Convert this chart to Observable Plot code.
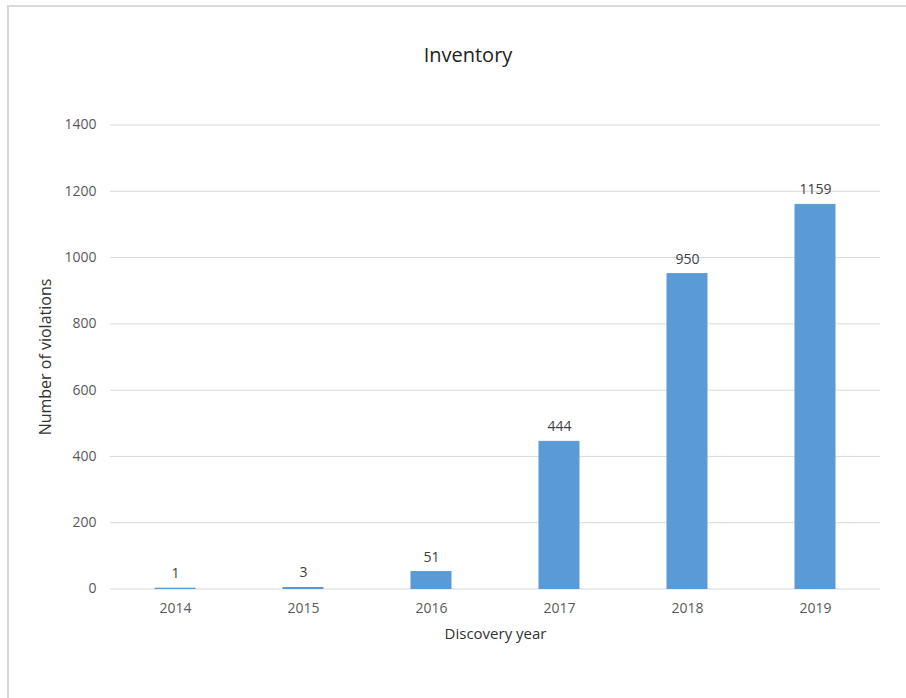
<!DOCTYPE html>
<html>
<head>
<meta charset="utf-8">
<script src="https://cdn.jsdelivr.net/npm/d3@7"></script>
<script src="https://cdn.jsdelivr.net/npm/@observablehq/plot@0.6"></script>
<style>
  html, body { margin: 0; padding: 0; background: #fff; }
  #wrap { position: relative; width: 906px; height: 698px; overflow: hidden; font-family: "Open Sans", "Noto Sans", sans-serif; }
  #frame { position: absolute; left: 7px; top: 5px; width: 920px; height: 720px; border-left: 2px solid #d9d9d9; border-top: 2px solid #d9d9d9; box-sizing: border-box; }
  #title { position: absolute; left: 0; width: 936px; top: 41px; text-align: center; font-size: 20px; color: #222; }
  svg { position: absolute; left: 0; top: 0; }
</style>
</head>
<body>
<div id="wrap">
  <div id="frame"></div>
  <div id="chart"></div>
  <div id="title">Inventory</div>
</div>
<script>
const years = ["2014", "2015", "2016", "2017", "2018", "2019"];
const violations = [1, 3, 51, 444, 950, 1159];
const yTicks = [0, 200, 400, 600, 800, 1000, 1200, 1400];

const data = years.map((y, i) => ({year: y, value: violations[i]}));

const chart = Plot.plot({
  width: 906,
  height: 698,
  marginLeft: 110,
  marginRight: 26,
  marginTop: 124.5,
  marginBottom: 109.5,
  style: {fontFamily: "'Open Sans', 'Noto Sans', sans-serif", fontSize: "14px", color: "#595959", background: "transparent"},
  x: {domain: years, paddingInner: 0.69, paddingOuter: 0.345, label: null},
  y: {domain: [0, 1400], label: null},
  marks: [
    Plot.gridY(yTicks, {stroke: "#d9d9d9", strokeOpacity: 1, strokeWidth: 1}),
    Plot.barY(data, {x: "year", y: "value", fill: "#5B9BD5", stroke: "#5B9BD5", strokeWidth: 1}),
    Plot.axisX({tickSize: 0, tickPadding: 14, fontSize: 14, fill: "#595959", label: null}),
    Plot.axisY({ticks: yTicks, tickFormat: d => String(d), tickSize: 0, tickPadding: 14, fontSize: 14, fill: "#595959", label: null}),
    Plot.text(data, {x: "year", y: "value", text: d => String(d.value), dy: -15, fontSize: 14, fill: "#404040"}),
    Plot.text(["Discovery year"], {frameAnchor: "bottom", dy: 50, fontSize: 15, fill: "#333"}),
    Plot.text(["Number of violations"], {frameAnchor: "left", textAnchor: "middle", dx: -65, rotate: -90, fontSize: 16, fill: "#333"})
  ]
});
document.getElementById("chart").appendChild(chart);
</script>
</body>
</html>
